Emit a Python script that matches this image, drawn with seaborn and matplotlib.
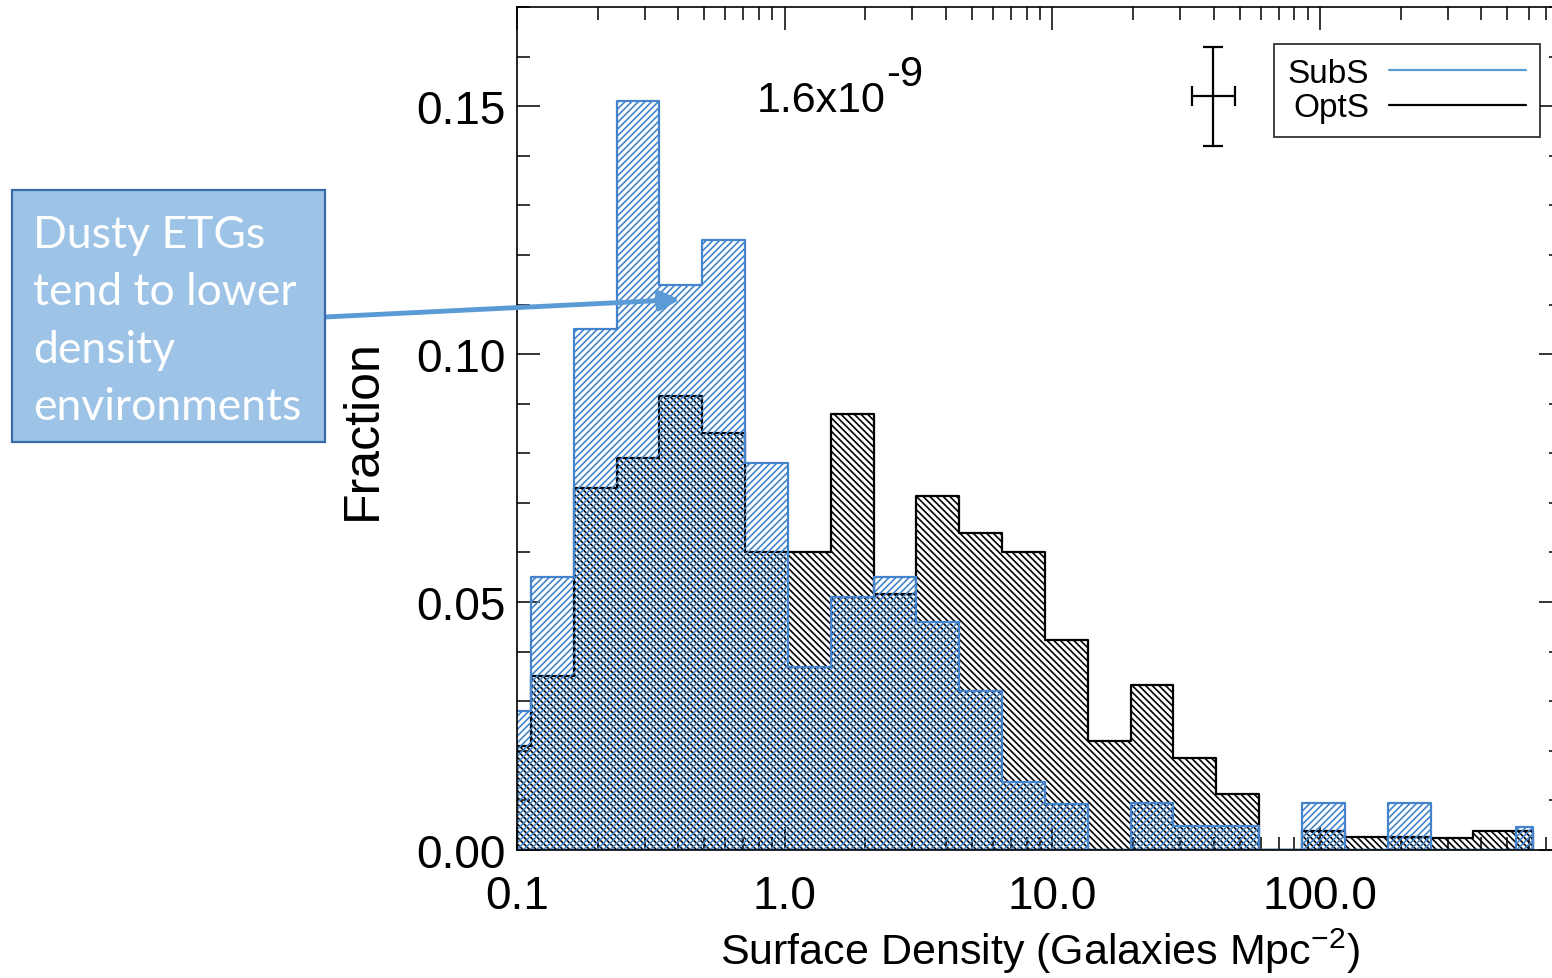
import numpy as np
import matplotlib
matplotlib.use("Agg")
import matplotlib.pyplot as plt
from matplotlib.lines import Line2D
from matplotlib.patches import Rectangle
from matplotlib.ticker import FixedLocator, MultipleLocator, NullFormatter, LogLocator
import seaborn as sns

# ---------------- data ----------------
log_bin_edges = [-1.108, -0.948, -0.788, -0.628, -0.468, -0.308, -0.148, 0.012,
                 0.172, 0.332, 0.492, 0.652, 0.812, 0.972, 1.132, 1.292, 1.452,
                 1.612, 1.772, 1.932, 2.092, 2.252, 2.412, 2.572, 2.732, 2.795]
subs_fraction = [0.028, 0.055, 0.105, 0.151, 0.114, 0.123, 0.078, 0.037, 0.051,
                 0.055, 0.046, 0.032, 0.0137, 0.0093, 0.0, 0.0095, 0.0048, 0.0048,
                 0.0, 0.0095, 0.0, 0.0095, 0.0, 0.0, 0.0046]
opts_fraction = [0.021, 0.035, 0.073, 0.079, 0.0915, 0.084, 0.060, 0.060, 0.088,
                 0.0516, 0.0714, 0.064, 0.060, 0.0423, 0.022, 0.0333, 0.0185, 0.0113,
                 0.0, 0.0038, 0.0026, 0.0026, 0.0024, 0.0038, 0.0038]
series_labels = ["SubS", "OptS"]
x_tick_values = [0.1, 1.0, 10.0, 100.0]
x_tick_labels = ["0.1", "1.0", "10.0", "100.0"]
y_tick_values = [0.0, 0.05, 0.10, 0.15]
y_tick_labels = ["0.00", "0.05", "0.10", "0.15"]
x_limits = [0.1, 800.0]
y_limits = [0.0, 0.17]
sig_mantissa = "1.6x10"
sig_exponent = "-9"
sig_pos = [0.788, 0.149]
err_center = [10 ** 1.6, 0.152]
err_half_dex = 0.08
err_y = 0.01
callout_lines = ["Dusty ETGs", "tend to lower", "density", "environments"]
arrow_target = [0.406, 0.111]
x_label = r"Surface Density (Galaxies Mpc$^{\mathregular{-2}}$)"
y_label = "Fraction"

# ---------------- style ----------------
sns.set_style("ticks")
sans = ["Liberation Sans Narrow", "Liberation Sans", "DejaVu Sans"]
plt.rcParams["font.family"] = sans
plt.rcParams["mathtext.fontset"] = "custom"
plt.rcParams["mathtext.rm"] = "Liberation Sans"
plt.rcParams["mathtext.it"] = "Liberation Sans"
plt.rcParams["mathtext.bf"] = "Liberation Sans:bold"
plt.rcParams["hatch.linewidth"] = 1.2
plt.rcParams["axes.edgecolor"] = "black"
plt.rcParams["axes.linewidth"] = 1.2
for key in ["text.color", "axes.labelcolor", "xtick.color", "ytick.color"]:
    plt.rcParams[key] = "black"

BLUE = "#4384cc"
LEG_BLUE = "#5b9bd5"

W, H = 1552, 979
fig = plt.figure(figsize=(W / 100, H / 100), dpi=100)
ax = fig.add_axes([517 / W, (H - 851) / H, (1562 - 517) / W, (851 - 8) / H])

centers = 10 ** ((np.array(log_bin_edges[:-1]) + np.array(log_bin_edges[1:])) / 2)

# with log_scale=True seaborn takes the bin edges in log10 units
sns.histplot(x=centers, weights=opts_fraction, bins=log_bin_edges, log_scale=True,
             element="step", fill=True, color="black", edgecolor="black",
             linewidth=1.6, hatch="\\\\\\\\\\", ax=ax)
ax.collections[-1].set_facecolor("none")
sns.histplot(x=centers, weights=subs_fraction, bins=log_bin_edges, log_scale=True,
             element="step", fill=True, color=BLUE, edgecolor=BLUE,
             linewidth=1.6, hatch="/////", ax=ax)
ax.collections[-1].set_facecolor("none")

ax.set_xlim(*x_limits)
ax.set_ylim(*y_limits)

ax.xaxis.set_major_locator(FixedLocator(x_tick_values))
ax.set_xticklabels(x_tick_labels)
ax.xaxis.set_minor_locator(LogLocator(base=10, subs=np.arange(2, 10)))
ax.xaxis.set_minor_formatter(NullFormatter())
ax.yaxis.set_major_locator(FixedLocator(y_tick_values))
ax.set_yticklabels(y_tick_labels)
ax.yaxis.set_minor_locator(MultipleLocator(0.01))

ax.tick_params(which="both", direction="in", top=True, right=True, width=1.1,
               color="black")
ax.tick_params(which="major", length=16.5, labelsize=33)
ax.tick_params(which="minor", length=9.5)
ax.tick_params(axis="x", which="major", pad=17)
ax.tick_params(axis="y", which="major", pad=8)

ax.set_xlabel(x_label, fontsize=31, labelpad=6)
ax.set_ylabel(y_label, fontsize=36, labelpad=22)

# significance annotation
t = ax.text(sig_pos[0], sig_pos[1], sig_mantissa, fontsize=31, ha="left",
            va="baseline")
ax.annotate(sig_exponent, xy=(1.0, 0.0), xycoords=t, xytext=(0, 18.5),
            textcoords="offset points", fontsize=30, ha="left", va="bottom")

# representative error bar
lo = err_center[0] - 10 ** (np.log10(err_center[0]) - err_half_dex)
hi = 10 ** (np.log10(err_center[0]) + err_half_dex) - err_center[0]
ax.errorbar(err_center[0], err_center[1], xerr=[[lo], [hi]], yerr=err_y,
            color="black", lw=1.6, capsize=7.5, capthick=1.6)

# legend
handles = [Line2D([0], [0], color=LEG_BLUE, lw=1.6),
           Line2D([0], [0], color="black", lw=1.6)]
leg = ax.legend(handles, series_labels, loc="upper right",
                bbox_to_anchor=(0.979, 0.956), borderaxespad=0,
                fontsize=24, markerfirst=False, handlelength=4.1,
                labelspacing=0.1, handletextpad=0.6, borderpad=0.42,
                frameon=True, fancybox=False, edgecolor="black")
leg.get_frame().set_linewidth(1.3)

# callout box with arrow
fig.patches.append(Rectangle((12 / W, 1 - 443 / H), 313 / W, 252 / H,
                             transform=fig.transFigure, facecolor="#9dc3e6",
                             edgecolor="#3d6aa8", linewidth=1.6, zorder=5))
for i, line in enumerate(callout_lines):
    fig.text(33 / W, 1 - (248 + i * 57.5) / H, line, color="white",
             fontsize=32, family=["Lato", "DejaVu Sans"], ha="left",
             va="baseline", zorder=6)
ax.annotate("", xy=(arrow_target[0], arrow_target[1]), xycoords="data",
            xytext=(325 / W, 1 - 318 / H), textcoords="figure fraction",
            arrowprops=dict(arrowstyle="-|>", color=LEG_BLUE, lw=3.5,
                            mutation_scale=30, shrinkA=0, shrinkB=0),
            annotation_clip=False, zorder=10)

fig.savefig("out.png", dpi=100)
